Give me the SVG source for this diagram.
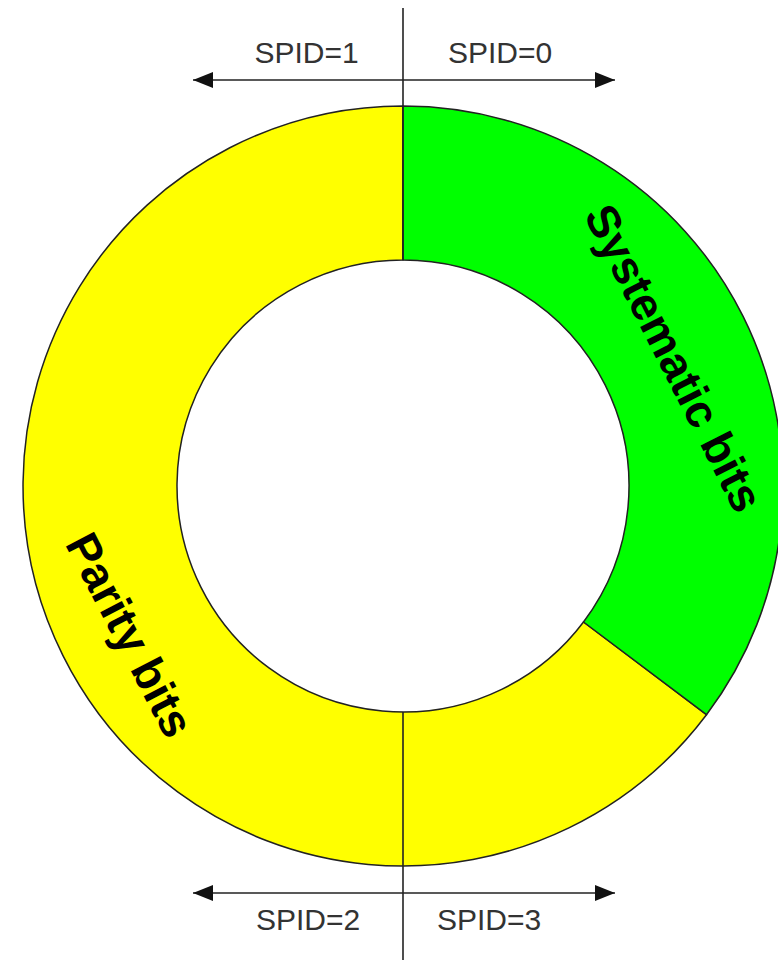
<svg xmlns="http://www.w3.org/2000/svg" width="778" height="960" viewBox="0 0 778 960">
  <style>
    .seg { stroke: #222; stroke-width: 1.5; stroke-linejoin: round; }
    .axis { stroke: #222; stroke-width: 1.6; fill: none; }
    .spid { font-family: "Liberation Sans", Arial, sans-serif; font-size: 30px; fill: #333; text-anchor: middle; }
    .lbl { font-family: "Liberation Sans", Arial, sans-serif; font-size: 46px; font-weight: bold; fill: #000; text-anchor: middle; dominant-baseline: central; }
  </style>
  <defs>
    <marker id="ah" viewBox="0 0 20 16" refX="20" refY="8" markerWidth="20" markerHeight="16" markerUnits="userSpaceOnUse" orient="auto-start-reverse">
      <path d="M0,0 L20,8 L0,16 Z" fill="#111"/>
    </marker>
  </defs>
  <rect width="778" height="960" fill="#fff"/>
  <g id="parity-segment">
    <path class="seg" fill="#ffff00" d="M706.5,714.7 A380,380 0 1 1 403,106 L403,260 A226,226 0 1 0 583.5,622 Z"/>
    <text class="lbl" transform="translate(130,635) rotate(62.5)">Parity bits</text>
  </g>
  <g id="systematic-segment">
    <path class="seg" fill="#00ff00" d="M403,106 A380,380 0 0 1 706.5,714.7 L583.5,622 A226,226 0 0 0 403,260 Z"/>
    <text class="lbl" transform="translate(674,358) rotate(63)">Systematic bits</text>
  </g>
  <g id="connectors">
    <line class="axis" x1="403" y1="8" x2="403" y2="260"/>
    <line class="axis" x1="403" y1="712" x2="403" y2="960"/>
    <line class="axis" x1="193" y1="80" x2="615" y2="80" marker-start="url(#ah)" marker-end="url(#ah)"/>
    <line class="axis" x1="193" y1="893" x2="615" y2="893" marker-start="url(#ah)" marker-end="url(#ah)"/>
  </g>
  <g id="spid-labels">
    <text class="spid" x="306.5" y="63">SPID=1</text>
    <text class="spid" x="500" y="63">SPID=0</text>
    <text class="spid" x="308" y="930">SPID=2</text>
    <text class="spid" x="489" y="930">SPID=3</text>
  </g>
</svg>
